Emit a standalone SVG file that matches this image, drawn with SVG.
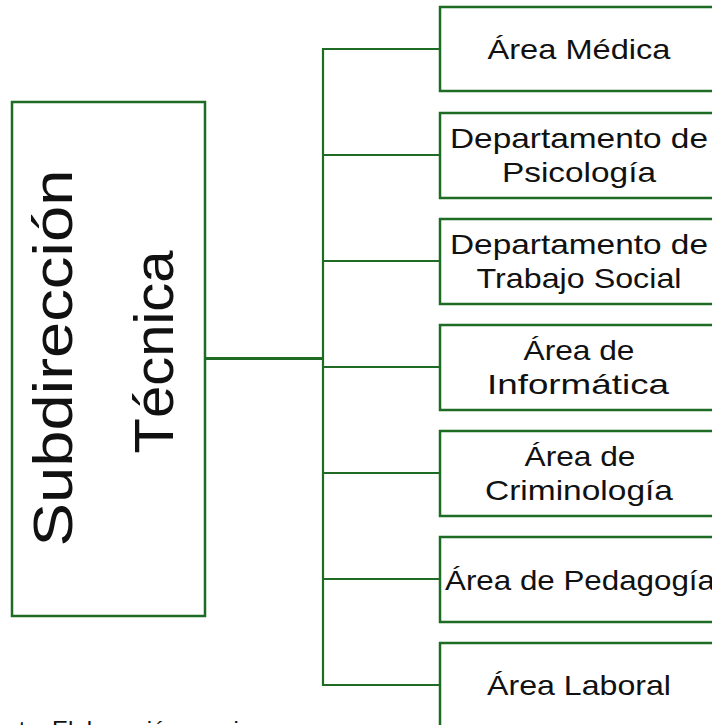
<svg xmlns="http://www.w3.org/2000/svg" width="712" height="725" viewBox="0 0 712 725">
<style>
.box{fill:#ffffff;stroke:#1e6b24;stroke-width:2.5}
.conn{fill:none;stroke:#1e6b24;stroke-width:2.2}
.lbl{font-family:"Liberation Sans",Arial,sans-serif;font-size:28px;fill:#111111;text-anchor:middle}
.big{font-family:"Liberation Sans",Arial,sans-serif;font-size:55px;fill:#111111;text-anchor:middle}
.foot{font-family:"Liberation Sans",Arial,sans-serif;font-size:24px;fill:#111111}
</style>
<rect x="0" y="0" width="712" height="725" fill="#ffffff"/>
<g id="connectors">
<line class="conn" x1="205" y1="358.5" x2="323" y2="358.5" style="stroke-width:3"/>
<line class="conn" x1="323" y1="48" x2="323" y2="686"/>
<line class="conn" x1="322" y1="49" x2="440" y2="49"/>
<line class="conn" x1="323" y1="155" x2="440" y2="155"/>
<line class="conn" x1="323" y1="261" x2="440" y2="261"/>
<line class="conn" x1="323" y1="367" x2="440" y2="367"/>
<line class="conn" x1="323" y1="473" x2="440" y2="473"/>
<line class="conn" x1="323" y1="579" x2="440" y2="579"/>
<line class="conn" x1="322" y1="685" x2="440" y2="685"/>
</g>
<g id="subdireccion">
<rect class="box" x="12" y="102" width="193" height="514"/>
<text class="big" transform="translate(72,358) rotate(-90)" textLength="377" lengthAdjust="spacingAndGlyphs">Subdirección</text>
<text class="big" transform="translate(173,352) rotate(-90)" textLength="203" lengthAdjust="spacingAndGlyphs">Técnica</text>
</g>
<g id="area-medica">
<rect class="box" x="440" y="7" width="280" height="84"/>
<text class="lbl" x="579" y="59" textLength="183" lengthAdjust="spacingAndGlyphs">Área Médica</text>
</g>
<g id="dep-psicologia">
<rect class="box" x="440" y="113" width="280" height="85"/>
<text class="lbl" x="579" y="148" textLength="258" lengthAdjust="spacingAndGlyphs">Departamento de</text>
<text class="lbl" x="579" y="182" textLength="154" lengthAdjust="spacingAndGlyphs">Psicología</text>
</g>
<g id="dep-trabajo-social">
<rect class="box" x="440" y="219" width="280" height="85"/>
<text class="lbl" x="579" y="254" textLength="258" lengthAdjust="spacingAndGlyphs">Departamento de</text>
<text class="lbl" x="579" y="288" textLength="205" lengthAdjust="spacingAndGlyphs">Trabajo Social</text>
</g>
<g id="area-informatica">
<rect class="box" x="440" y="325" width="280" height="85"/>
<text class="lbl" x="579" y="360" textLength="111" lengthAdjust="spacingAndGlyphs">Área de</text>
<text class="lbl" x="578" y="394" textLength="182" lengthAdjust="spacingAndGlyphs">Informática</text>
</g>
<g id="area-criminologia">
<rect class="box" x="440" y="431" width="280" height="85"/>
<text class="lbl" x="580" y="466" textLength="111" lengthAdjust="spacingAndGlyphs">Área de</text>
<text class="lbl" x="579" y="500" textLength="188" lengthAdjust="spacingAndGlyphs">Criminología</text>
</g>
<g id="area-pedagogia">
<rect class="box" x="440" y="537" width="280" height="85"/>
<text class="lbl" x="580" y="590" textLength="270" lengthAdjust="spacingAndGlyphs">Área de Pedagogía</text>
</g>
<g id="area-laboral">
<rect class="box" x="440" y="643" width="280" height="90"/>
<text class="lbl" x="579" y="695" textLength="184" lengthAdjust="spacingAndGlyphs">Área Laboral</text>
</g>
<text class="foot" x="-36" y="738">Fuente: Elaboración propia</text>
</svg>
